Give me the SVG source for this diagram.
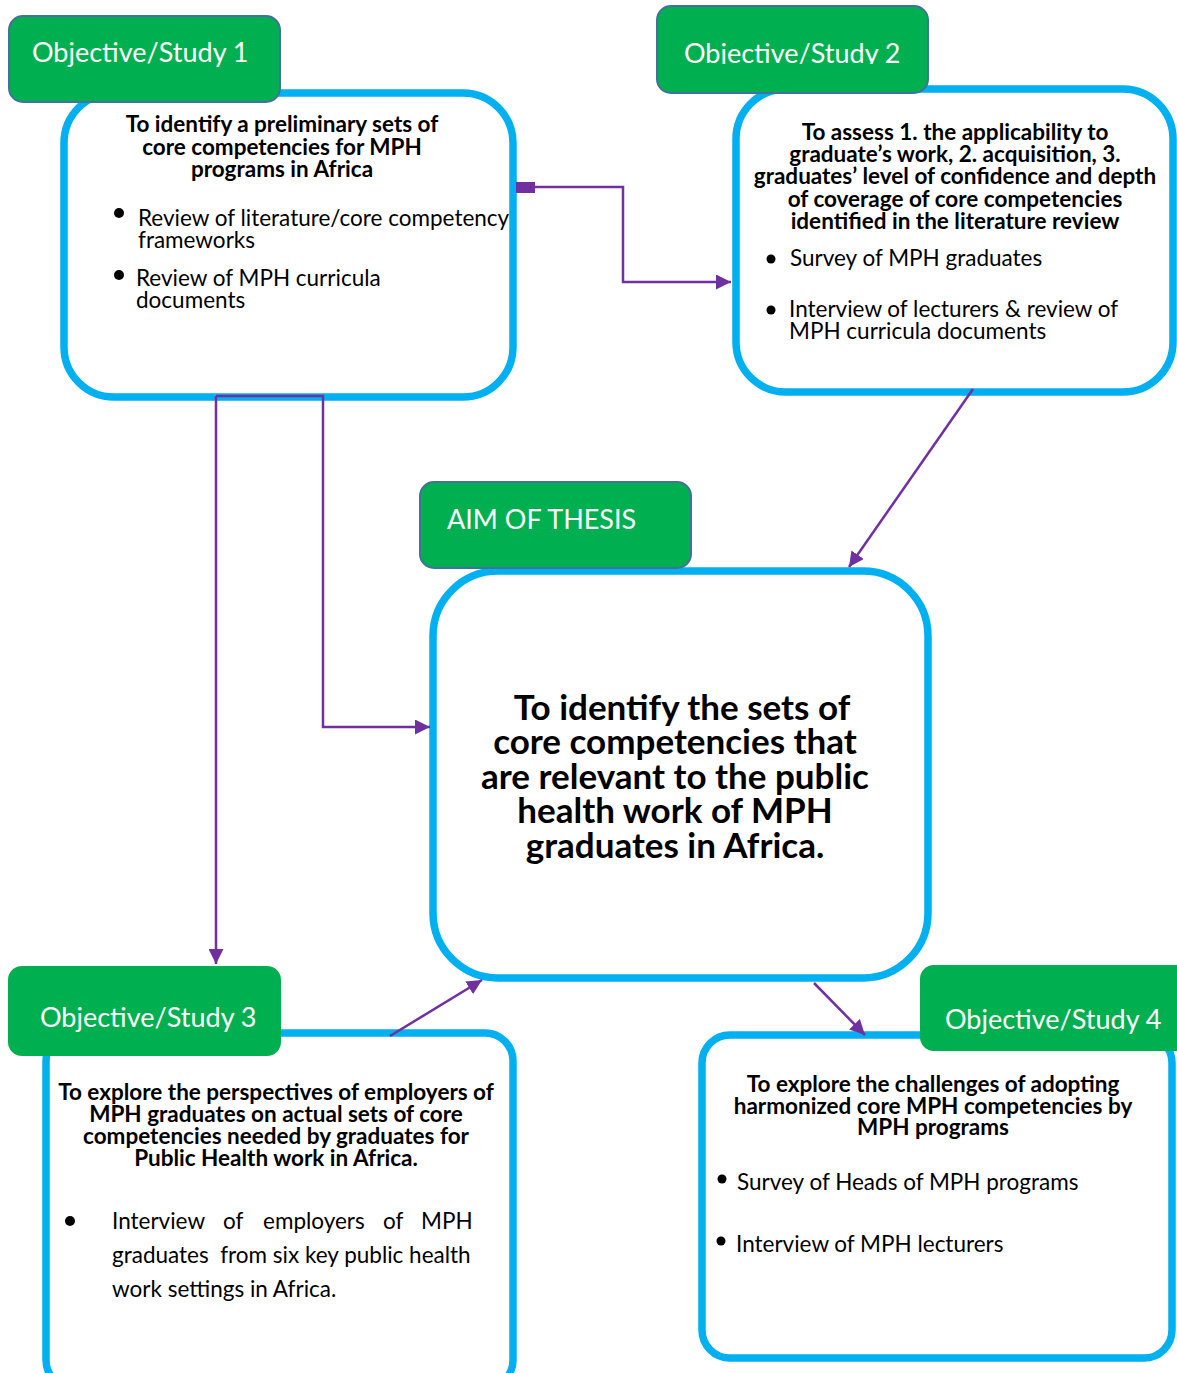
<svg xmlns="http://www.w3.org/2000/svg" width="1177" height="1373" viewBox="0 0 1177 1373">
  <defs>
    <style>
      .box { fill: #FFFFFF; stroke: #00B0F0; stroke-width: 7.5; }
      .tab { fill: #00B050; }
      .tab-edged { stroke: #41719C; stroke-width: 2; }
      .tab-label { font-family: Lato, "Liberation Sans", sans-serif; font-size: 27px; fill: #FFFFFF; }
      .head { font-family: Lato, "Liberation Sans", sans-serif; font-size: 22.5px; font-weight: bold; fill: #000000; text-anchor: middle; }
      .item { font-family: Lato, "Liberation Sans", sans-serif; font-size: 22.5px; fill: #000000; }
      .aim { font-family: Lato, "Liberation Sans", sans-serif; font-size: 35px; font-weight: bold; fill: #000000; text-anchor: middle; }
      .dot { fill: #000000; }
      .link { fill: none; stroke: #7030A0; stroke-width: 2.5; }
    </style>
    <marker id="arrow" viewBox="0 0 10 10" refX="10" refY="5" markerWidth="6" markerHeight="6" orient="auto" markerUnits="strokeWidth">
      <path d="M0,0 L10,5 L0,10 Z" fill="#7030A0"/>
    </marker>
    <clipPath id="tab2-clip">
      <rect x="657" y="6" width="272" height="58"/>
    </clipPath>
  </defs>

  <!-- Study 1 -->
  <g id="study1">
    <rect class="box" x="64" y="93" width="449" height="304" rx="50" ry="50"/>
    <rect class="tab tab-edged" x="9" y="16" width="271" height="86" rx="14" ry="14"/>
    <text class="tab-label" x="32" y="62">Objective/Study 1</text>
    <text class="head"><tspan x="282" y="132">To identify a preliminary sets of</tspan><tspan x="282" y="155">core competencies for MPH</tspan><tspan x="282" y="177">programs in Africa</tspan></text>
    <circle class="dot" cx="119" cy="213" r="5"/>
    <text class="item"><tspan x="138" y="226">Review of literature/core competency</tspan><tspan x="138" y="248">frameworks</tspan></text>
    <circle class="dot" cx="119" cy="275" r="5"/>
    <text class="item"><tspan x="136" y="286">Review of MPH curricula</tspan><tspan x="136" y="308">documents</tspan></text>
  </g>

  <!-- Study 2 -->
  <g id="study2">
    <rect class="box" x="736" y="89" width="437" height="303" rx="50" ry="50"/>
    <rect class="tab tab-edged" x="657" y="6" width="271" height="87" rx="14" ry="14"/>
    <text class="tab-label" x="684" y="63" clip-path="url(#tab2-clip)">Objective/Study 2</text>
    <text class="head"><tspan x="955" y="140">To assess 1. the applicability to</tspan><tspan x="955" y="162">graduate’s work, 2. acquisition, 3.</tspan><tspan x="955" y="184">graduates’ level of confidence and depth</tspan><tspan x="955" y="207">of coverage of core competencies</tspan><tspan x="955" y="229">identified in the literature review</tspan></text>
    <circle class="dot" cx="771" cy="259" r="4.5"/>
    <text class="item" x="790" y="266">Survey of MPH graduates</text>
    <circle class="dot" cx="771" cy="310" r="4.5"/>
    <text class="item"><tspan x="789" y="317">Interview of lecturers &amp; review of</tspan><tspan x="789" y="339">MPH curricula documents</tspan></text>
  </g>

  <!-- Aim of thesis -->
  <g id="aim">
    <rect class="box" x="433" y="571" width="495" height="407" rx="65" ry="65"/>
    <rect class="tab tab-edged" x="420" y="482" width="271" height="86" rx="14" ry="14"/>
    <text class="tab-label" x="447" y="529">AIM OF THESIS</text>
    <text class="aim"><tspan x="682" y="720">To identify the sets of</tspan><tspan x="675" y="754">core competencies that</tspan><tspan x="675" y="789">are relevant to the public</tspan><tspan x="675" y="823">health work of MPH</tspan><tspan x="675" y="858">graduates in Africa.</tspan></text>
  </g>

  <!-- Study 3 -->
  <g id="study3">
    <rect class="box" x="46" y="1033" width="467" height="355" rx="28" ry="28"/>
    <rect class="tab" x="8" y="966" width="273" height="90" rx="14" ry="14"/>
    <text class="tab-label" x="40" y="1027">Objective/Study 3</text>
    <text class="head"><tspan x="276" y="1100">To explore the perspectives of employers of</tspan><tspan x="276" y="1122">MPH graduates on actual sets of core</tspan><tspan x="276" y="1144">competencies needed by graduates for</tspan><tspan x="276" y="1166">Public Health work in Africa.</tspan></text>
    <circle class="dot" cx="70" cy="1221" r="5"/>
    <text class="item" y="1229"><tspan x="112">Interview</tspan><tspan x="223">of</tspan><tspan x="263">employers</tspan><tspan x="383">of</tspan><tspan x="421">MPH</tspan></text>
    <text class="item" x="112" y="1263" xml:space="preserve">graduates  from six key public health</text>
    <text class="item" x="112" y="1297">work settings in Africa.</text>
  </g>

  <!-- Study 4 -->
  <g id="study4">
    <rect class="box" x="702" y="1035" width="470" height="323" rx="28" ry="28"/>
    <rect class="tab" x="920" y="965" width="272" height="86" rx="14" ry="14"/>
    <text class="tab-label" x="945" y="1029">Objective/Study 4</text>
    <text class="head"><tspan x="933" y="1092">To explore the challenges of adopting</tspan><tspan x="933" y="1114">harmonized core MPH competencies by</tspan><tspan x="933" y="1135">MPH programs</tspan></text>
    <circle class="dot" cx="722" cy="1179" r="4.5"/>
    <text class="item" x="737" y="1190">Survey of Heads of MPH programs</text>
    <circle class="dot" cx="721" cy="1241" r="4.5"/>
    <text class="item" x="736" y="1252">Interview of MPH lecturers</text>
  </g>

  <!-- Connectors -->
  <g id="connectors">
    <rect x="516" y="182" width="19" height="11" fill="#7030A0"/>
    <path class="link" d="M520,187 H623 V282 H731" marker-end="url(#arrow)"/>
    <path class="link" d="M216,396 V964" marker-end="url(#arrow)"/>
    <path class="link" d="M216,396 H323 V727 H430" marker-end="url(#arrow)"/>
    <path class="link" d="M973,389 L849,567" marker-end="url(#arrow)"/>
    <path class="link" d="M390,1036 L482,980" marker-end="url(#arrow)"/>
    <path class="link" d="M814,983 L865,1035" marker-end="url(#arrow)"/>
  </g>
</svg>
